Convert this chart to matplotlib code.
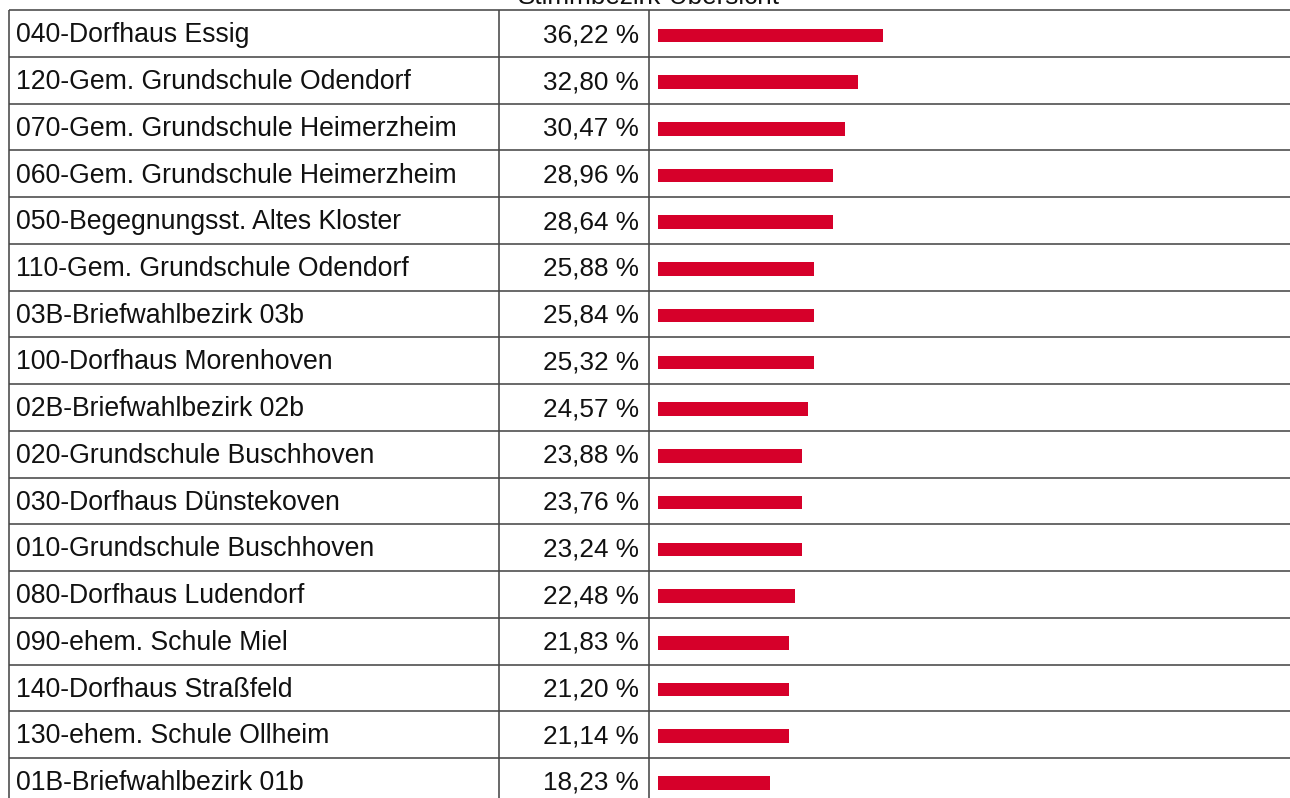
import numpy as np
import matplotlib
matplotlib.use("Agg")
import matplotlib.pyplot as plt

# Turnout per polling district (Stimmbezirk), sorted descending
districts = [
    "040-Dorfhaus Essig",
    "120-Gem. Grundschule Odendorf",
    "070-Gem. Grundschule Heimerzheim",
    "060-Gem. Grundschule Heimerzheim",
    "050-Begegnungsst. Altes Kloster",
    "110-Gem. Grundschule Odendorf",
    "03B-Briefwahlbezirk 03b",
    "100-Dorfhaus Morenhoven",
    "02B-Briefwahlbezirk 02b",
    "020-Grundschule Buschhoven",
    "030-Dorfhaus Dünstekoven",
    "010-Grundschule Buschhoven",
    "080-Dorfhaus Ludendorf",
    "090-ehem. Schule Miel",
    "140-Dorfhaus Straßfeld",
    "130-ehem. Schule Ollheim",
    "01B-Briefwahlbezirk 01b",
]
turnout = [36.22, 32.80, 30.47, 28.96, 28.64, 25.88, 25.84, 25.32, 24.57,
           23.88, 23.76, 23.24, 22.48, 21.83, 21.20, 21.14, 18.23]
title = "Stimmbezirk-Übersicht"

plt.rcParams["font.family"] = ["Liberation Sans", "DejaVu Sans"]

W, H, DPI = 1290, 798, 100
fig = plt.figure(figsize=(W / DPI, H / DPI), dpi=DPI)
fig.patch.set_facecolor("white")

# table geometry in pixels
top = 10.3
row_h = 46.73
col_left, col_mid, col_bar = 8.5, 499.3, 649.3
bar_x0 = 658.0
px_per_pct = 6.25
n = len(districts)

y_top = -top / row_h
y_bot = (H - top) / row_h

# full-figure axes: x in pixels, y in row units
ax = fig.add_axes([0, 0, 1, 1])
ax.set_xlim(0, W)
ax.set_ylim(y_bot, y_top)
ax.axis("off")

line_col = "#474747"
lw = 1.15
for i in range(n + 1):
    ax.plot([col_left, W], [i, i], color=line_col, lw=lw, solid_capstyle="butt")
for x in (col_left, col_mid, col_bar):
    ax.plot([x, x], [0, y_bot], color=line_col, lw=lw, solid_capstyle="butt")

fs_label = 19.2
fs_value = 18.8
for i, (name, val) in enumerate(zip(districts, turnout)):
    ax.text(16, i + 0.685, name, fontsize=fs_label, color="#111111",
            ha="left", va="baseline")
    ax.text(639, i + 0.685, f"{val:.2f} %".replace(".", ","), fontsize=fs_value,
            color="#111111", ha="right", va="baseline")

ax.text((col_left + W) / 2, y_top + 4 / row_h, title, fontsize=fs_value,
        color="#111111", ha="center", va="baseline")

# bar column: x in percent, bars in whole percent steps
bx = fig.add_axes([bar_x0 / W, 0, (W - bar_x0) / W, 1])
bx.set_xlim(0, (W - bar_x0) / px_per_pct)
bx.set_ylim(y_bot, y_top)
bx.axis("off")
bx.patch.set_alpha(0)
bx.barh(np.arange(n) + 0.535, np.floor(turnout), height=0.29,
        left=0, color="#d6002a", edgecolor="none")

fig.savefig("out.png", dpi=DPI, facecolor="white")
